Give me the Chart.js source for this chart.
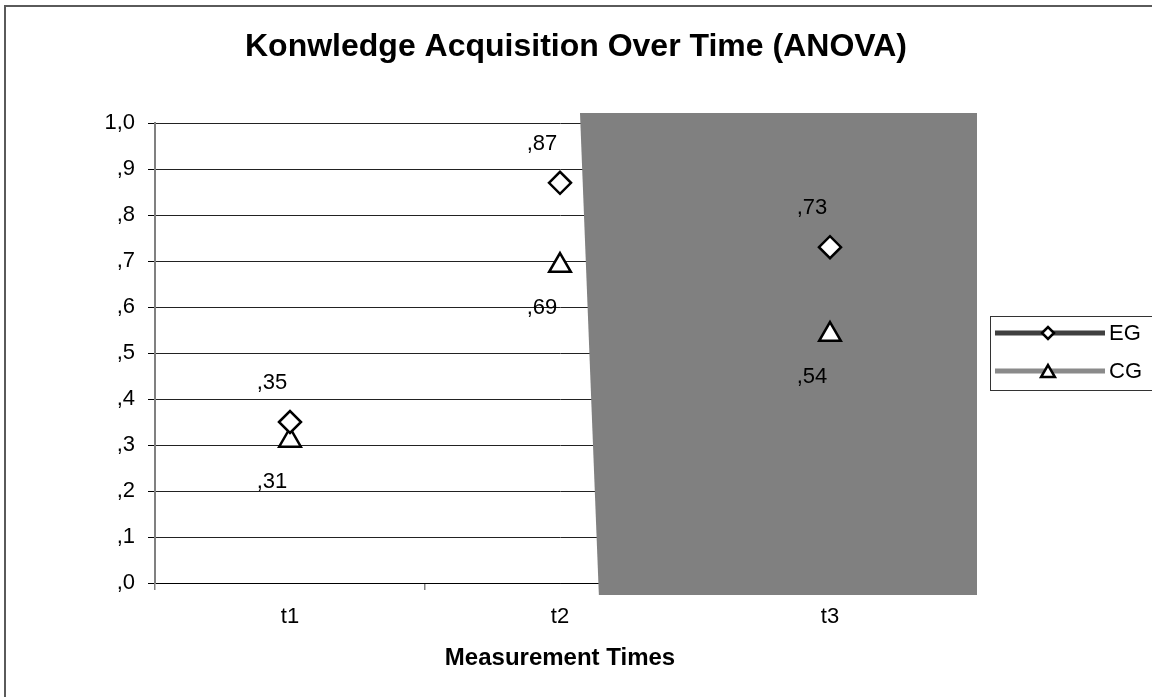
<!DOCTYPE html>
<html>
<head>
<meta charset="utf-8">
<script src="https://cdn.jsdelivr.net/npm/chart.js@4/dist/chart.umd.min.js"></script>
<style>
  html, body { margin: 0; padding: 0; background: #fff; }
  #wrap { width: 1152px; height: 697px; position: relative; }
</style>
</head>
<body>
<div id="wrap"><canvas id="myChart" width="1152" height="697"></canvas></div>
<script>
const categories = ["t1", "t2", "t3"];
const egValues = [0.35, 0.87, 0.73];
const cgValues = [0.31, 0.69, 0.54];
const seriesNames = ["EG", "CG"];
const yTicks = [0, 0.1, 0.2, 0.3, 0.4, 0.5, 0.6, 0.7, 0.8, 0.9, 1.0];

const FONT = "'Liberation Sans', Arial, sans-serif";

function fmt(v) {
  let s = v.toFixed(2).replace(".", ",");
  if (s.startsWith("0")) s = s.substring(1);
  return s;
}
function fmtTick(v) {
  let s = v.toFixed(1).replace(".", ",");
  if (s.startsWith("0")) s = s.substring(1);
  return s;
}

// gray block left by the thick t2..t3 line in the original picture
const shadePlugin = {
  id: "shade",
  beforeDatasetsDraw(chart) {
    const ctx = chart.ctx;
    const area = chart.chartArea;
    const x = chart.scales.x;
    const cw = x.getPixelForValue(1) - x.getPixelForValue(0);
    const x2 = x.getPixelForValue(1);
    ctx.save();
    ctx.fillStyle = "#808080";
    ctx.beginPath();
    ctx.moveTo(x2 + cw * 0.074, area.top - 10);
    ctx.lineTo(area.right + 12, area.top - 10);
    ctx.lineTo(area.right + 12, area.bottom + 12);
    ctx.lineTo(x2 + cw * 0.144, area.bottom + 12);
    ctx.closePath();
    ctx.fill();
    ctx.restore();
  }
};

const textPlugin = {
  id: "texts",
  afterDraw(chart) {
    const ctx = chart.ctx;
    const area = chart.chartArea;
    ctx.save();
    // outer frame
    ctx.strokeStyle = "#5a5a5a";
    ctx.lineWidth = 2;
    ctx.strokeRect(5, 6, 1300, 1000);

    ctx.fillStyle = "#000";
    ctx.textAlign = "center";
    ctx.textBaseline = "middle";
    ctx.font = "bold 32px " + FONT;
    ctx.fillText("Konwledge Acquisition Over Time (ANOVA)", chart.width / 2, 47);
    ctx.font = "bold 24px " + FONT;
    ctx.fillText("Measurement Times", (area.left + area.right) / 2, 658);

    // value labels
    ctx.font = "22px " + FONT;
    const x = chart.scales.x, y = chart.scales.y;
    egValues.forEach((v, i) => {
      ctx.fillText(fmt(v), x.getPixelForValue(i) - 18, y.getPixelForValue(v) - 39);
    });
    cgValues.forEach((v, i) => {
      ctx.fillText(fmt(v), x.getPixelForValue(i) - 18, y.getPixelForValue(v) + 42);
    });

    // legend
    const lx = area.right + 25, ly = 316;
    ctx.strokeStyle = "#333";
    ctx.lineWidth = 1;
    ctx.strokeRect(lx + 0.5, ly + 0.5, 300, 74);
    const rows = [
      { name: seriesNames[0], color: "#404040", style: "rectRot", r: 6, y: ly + 17 },
      { name: seriesNames[1], color: "#8a8a8a", style: "triangle", r: 8, y: ly + 55 }
    ];
    rows.forEach(row => {
      ctx.strokeStyle = row.color;
      ctx.lineWidth = 5;
      ctx.beginPath();
      ctx.moveTo(lx + 5, row.y);
      ctx.lineTo(lx + 115, row.y);
      ctx.stroke();
      ctx.fillStyle = "#fff";
      ctx.strokeStyle = "#000";
      ctx.lineWidth = 2.5;
      Chart.helpers.drawPoint(ctx, { pointStyle: row.style, radius: row.r, borderWidth: 2.5 }, lx + 58, row.y + (row.style === "triangle" ? 2 : 0));
      ctx.fillStyle = "#000";
      ctx.textAlign = "left";
      ctx.font = "22px " + FONT;
      ctx.fillText(row.name, lx + 119, row.y + 1);
    });
    ctx.restore();
  }
};

const ctx1 = document.getElementById("myChart").getContext("2d");
const myChart = new Chart(ctx1, {
  type: "line",
  data: {
    labels: categories,
    datasets: [
      {
        label: seriesNames[0],
        data: egValues,
        showLine: false,
        pointStyle: "rectRot",
        pointRadius: 11,
        pointBorderWidth: 2.5,
        pointBorderColor: "#000",
        pointBackgroundColor: "#fff",
        borderColor: "#404040",
      },
      {
        label: seriesNames[1],
        data: cgValues,
        showLine: false,
        pointStyle: "triangle",
        pointRadius: 12.5,
        pointBorderWidth: 2.5,
        pointBorderColor: "#000",
        pointBackgroundColor: "#fff",
        borderColor: "#808080",
      },
    ],
  },
  options: {
    responsive: false,
    animation: false,
    events: [],
    layout: { padding: { left: 0, right: 187, top: 123, bottom: 0 } },
    plugins: {
      legend: { display: false },
      title: { display: false },
      tooltip: { enabled: false },
    },
    scales: {
      x: {
        offset: true,
        afterFit(scale) { scale.height = 114; },
        grid: {
          offset: true,
          drawOnChartArea: false,
          tickLength: 7,
          color: "#808080",
          lineWidth: 1.5,
        },
        border: { color: "#000", width: 1 },
        ticks: {
          padding: 14,
          color: "#000",
          font: { family: FONT, size: 22 },
        },
      },
      y: {
        min: 0,
        max: 1,
        afterFit(scale) { scale.width = 155; },
        afterBuildTicks(scale) { scale.ticks = yTicks.map(v => ({ value: v })); },
        grid: {
          color: "#222",
          lineWidth: 1,
          tickLength: 7,
          tickColor: "#000",
        },
        border: { color: "#808080", width: 2 },
        ticks: {
          padding: 13,
          color: "#000",
          font: { family: FONT, size: 22 },
          callback: (v) => fmtTick(v),
        },
      },
    },
  },
  plugins: [shadePlugin, textPlugin],
});
</script>
</body>
</html>
